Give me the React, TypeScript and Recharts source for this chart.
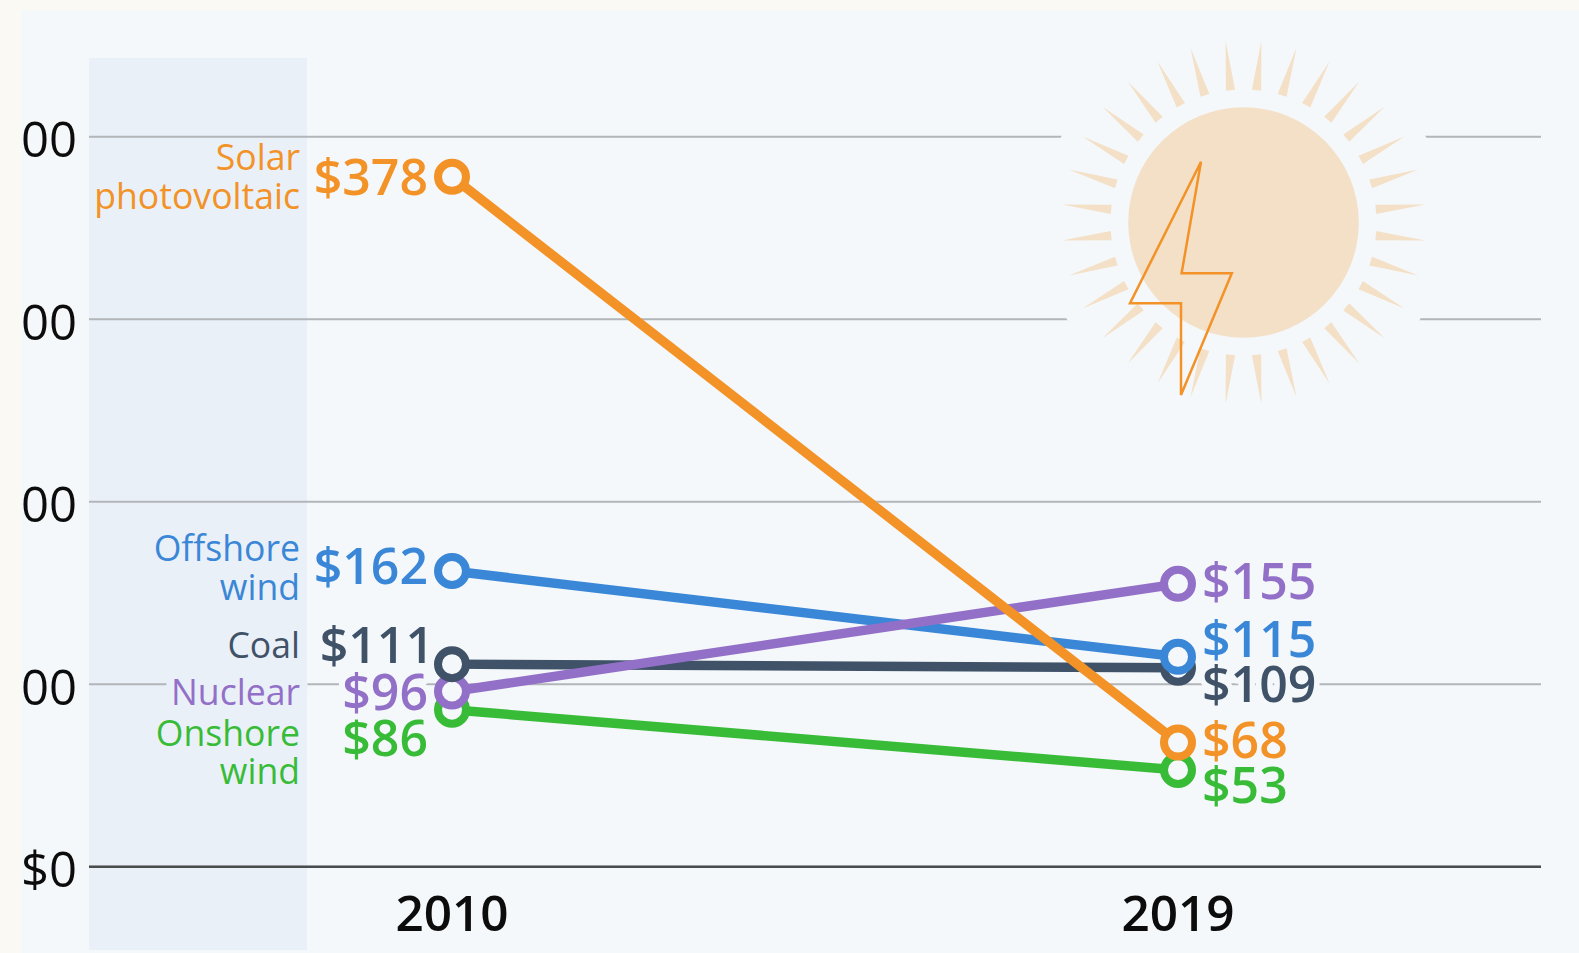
import { ComposedChart, Line, XAxis, YAxis, CartesianGrid, LabelList } from "recharts";

const years = ["2010", "2019"];
const solar = [378, 68];
const offshore = [162, 115];
const coal = [111, 109];
const nuclear = [96, 155];
const onshore = [86, 53];
const yTicks = [0, 100, 200, 300, 400];

const data = years.map((year, i) => ({
  year,
  solar: solar[i],
  offshore: offshore[i],
  coal: coal[i],
  nuclear: nuclear[i],
  onshore: onshore[i],
}));

const PANEL = "#f4f8fb";
const BAND = "#eaf0f7";
const FONT = "'Open Sans', sans-serif";

// left name (lines), baseline offsets from the point; halo = gridline gap behind the text
const series = [
  { key: "onshore", color: "#38bc38", lines: ["Onshore", "wind"], nameDy: 36, leftDy: 46, rightDy: 33 },
  { key: "nuclear", color: "#9370c8", lines: ["Nuclear"], nameDy: 13.5, leftDy: 18, rightDy: 15, nameHalo: 16, leftHalo: 12 },
  { key: "coal", color: "#3f5268", lines: ["Coal"], nameDy: -5.7, leftDy: -1.3, leftDx: 6, rightDy: 34.5, rightHalo: 11 },
  { key: "offshore", color: "#3a87d8", lines: ["Offshore", "wind"], nameDy: -10, leftDy: 13, rightDy: 0 },
  { key: "solar", color: "#f29227", lines: ["Solar", "photovoltaic"], nameDy: -6.5, leftDy: 18, rightDy: 15.7 },
];
// the rings stack in the order above, the line strokes in this one
const lineOrder = ["coal", "offshore", "onshore", "nuclear", "solar"];

function haloProps(width: number | undefined, color: string) {
  if (!width) return {};
  return { stroke: color, strokeWidth: width, paintOrder: "stroke", strokeLinejoin: "round" as const };
}

function makeLabel(s: (typeof series)[number]) {
  return function SeriesLabel(props: any) {
    const { x, y, value, index } = props;
    if (index === 0) {
      return (
        <g fontFamily={FONT}>
          <text x={x - 152} y={y + s.nameDy} textAnchor="end" fontSize={35.6} fill={s.color} {...haloProps(s.nameHalo, BAND)}>
            {s.lines.map((line, i) => (
              <tspan key={line} x={x - 152} dy={i === 0 ? 0 : 38.5}>
                {line}
              </tspan>
            ))}
          </text>
          <text x={x - 24 + (s.leftDx || 0)} y={y + s.leftDy} textAnchor="end" fontSize={50} fontWeight={600} fill={s.color} {...haloProps(s.leftHalo, PANEL)}>
            ${value}
          </text>
        </g>
      );
    }
    return (
      <text x={x + 24} y={y + s.rightDy} textAnchor="start" fontFamily={FONT} fontSize={50} fontWeight={600} fill={s.color} {...haloProps(s.rightHalo, PANEL)}>
        ${value}
      </text>
    );
  };
}

function makeRing(color: string) {
  return function Ring(props: any) {
    return <circle key={props.index} cx={props.cx} cy={props.cy} r={14} fill={PANEL} stroke={color} strokeWidth={8} />;
  };
}

function Sun() {
  const cx = 1243.5;
  const cy = 222.5;
  const rays = Array.from({ length: 32 }, (_, i) => 5.625 + i * 11.25);
  const pt = (deg: number, r: number) => {
    const a = (deg * Math.PI) / 180;
    return `${cx + r * Math.cos(a)},${cy - r * Math.sin(a)}`;
  };
  return (
    <svg width={1579} height={953} style={{ position: "absolute", left: 0, top: 0 }}>
      <circle cx={cx} cy={cy} r={201.5} fill={PANEL} />
      {rays.map((deg) => (
        <polygon key={deg} points={`${pt(deg, 182.5)} ${pt(deg + 2, 133)} ${pt(deg - 2, 133)}`} fill="#f4e0c7" />
      ))}
      <circle cx={cx} cy={cy} r={115.3} fill="#f4e0c7" />
      <polygon
        points="1201,161.7 1181.6,273.3 1231.8,273.3 1181,395 1181,303.3 1130,303.3"
        fill="none"
        stroke="#f29227"
        strokeWidth={2.5}
      />
    </svg>
  );
}

export default function App() {
  return (
    <div style={{ position: "fixed", left: 0, top: 0, width: 1579, height: 953, background: "#faf9f4", overflow: "hidden" }}>
      <div style={{ position: "absolute", left: 21, top: 10, width: 1558, height: 943, background: PANEL }} />
      <div style={{ position: "absolute", left: 89, top: 58, width: 218, height: 892, background: BAND }} />
      <div style={{ position: "absolute", left: 21, top: 0, width: 1558, height: 953, overflow: "hidden" }}>
        <ComposedChart width={1558} height={953} data={data} margin={{ top: 136.7, right: 38, bottom: 0, left: 0 }}>
          <CartesianGrid vertical={false} stroke="#b2b6b8" strokeWidth={2} />
          <XAxis
            dataKey="year"
            scale="band"
            height={86.3}
            tickSize={0}
            tickMargin={29}
            axisLine={{ stroke: "#484c4e", strokeWidth: 2.5 }}
            tick={{ fontFamily: FONT, fontSize: 49.5, fontWeight: 600, fill: "#0c0c0c" }}
          />
          <YAxis
            domain={[0, 400]}
            ticks={yTicks}
            width={68}
            tickSize={0}
            tickMargin={12}
            axisLine={false}
            tickFormatter={(v: number) => `$${v}`}
            tick={{ fontFamily: FONT, fontSize: 49, fill: "#0c0c0c", dy: 3 }}
          />
          {lineOrder.map((key) => (
            <Line
              key={key}
              dataKey={key}
              stroke={series.find((s) => s.key === key)!.color}
              strokeWidth={9.5}
              dot={false}
              activeDot={false}
              isAnimationActive={false}
            />
          ))}
          {series.map((s) => (
            <Line
              key={`${s.key}-rings`}
              dataKey={s.key}
              stroke="none"
              dot={makeRing(s.color)}
              activeDot={false}
              isAnimationActive={false}
            >
              <LabelList dataKey={s.key} content={makeLabel(s)} />
            </Line>
          ))}
        </ComposedChart>
      </div>
      <Sun />
    </div>
  );
}
